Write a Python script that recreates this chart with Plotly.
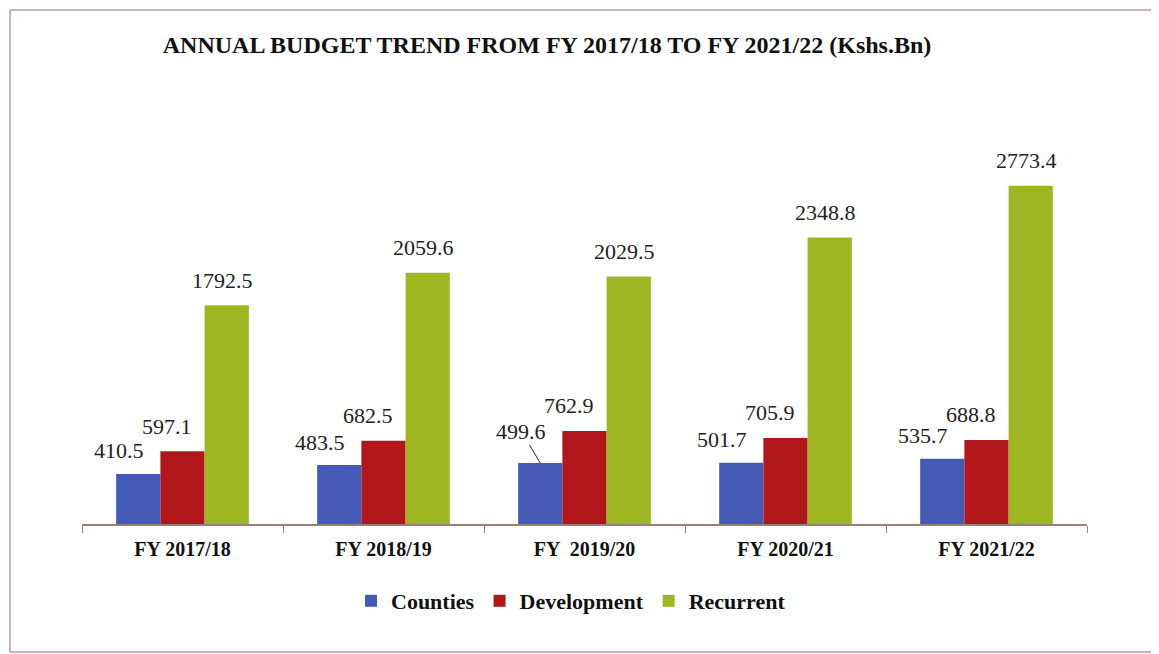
import plotly.graph_objects as go

# FY categories (the double space in 2019/20 is as printed)
years = ["FY 2017/18", "FY 2018/19", "FY  2019/20", "FY 2020/21", "FY 2021/22"]
counties = [410.5, 483.5, 499.6, 501.7, 535.7]
development = [597.1, 682.5, 762.9, 705.9, 688.8]
recurrent = [1792.5, 2059.6, 2029.5, 2348.8, 2773.4]

W, H = 1159, 654
PAGE = 8  # default body margin of the html page
# plot area wanted on screen: x 82..1087, y 158..524
M_L, M_T = 82 - PAGE, 158 - PAGE
M_R = W - (1087 - PAGE)
M_B = H - (524 - PAGE)
SERIF = "Liberation Serif, Times New Roman, serif"

series = [
    ("Counties", counties, "#4559B6"),
    ("Development", development, "#B0161A"),
    ("Recurrent", recurrent, "#9EB621"),
]

fig = go.Figure()
for name, vals, color in series:
    fig.add_trace(go.Bar(x=years, y=vals, name=name, marker=dict(color=color, line=dict(width=0)), hoverinfo="skip"))

plot_w = W - M_L - M_R
plot_h = H - M_T - M_B
bargap = 0.34
bar_px = plot_w / len(years) * (1 - bargap) / 3
nudges = [(-19, 23), (-16, 25), (-4, 25)]
label_font = dict(family=SERIF, size=22, color="#222")
annotations = []
for k, (name, vals, color) in enumerate(series):
    off = (k - 1) * bar_px
    dx, dy = nudges[k]
    for cat, v in zip(years, vals):
        if name == "Counties" and cat == "FY  2019/20":
            # label pulled away with a leader line
            annotations.append(dict(x=cat, y=v, xshift=off, text=f"{v:.1f}", showarrow=True, arrowhead=0, arrowwidth=1, arrowcolor="#222", ax=-19, ay=-32, font=label_font))
            continue
        annotations.append(dict(x=cat, y=v, xshift=off + dx, yshift=dy, text=f"{v:.1f}", showarrow=False, yanchor="middle", font=label_font))

# screen pixel -> paper coordinates
px_x = lambda p: (p - PAGE - M_L) / plot_w
px_y = lambda p: (H - M_B - (p - PAGE)) / plot_h

# frame round the chart: left, top and bottom edges only (right edge is off the page)
frame = dict(type="line", xref="paper", yref="paper", line=dict(color="#b89a98", width=1.5), layer="below")
shapes = [
    dict(frame, x0=px_x(10), x1=px_x(10), y0=px_y(652), y1=px_y(10)),
    dict(frame, x0=px_x(10), x1=px_x(1166), y0=px_y(10), y1=px_y(10)),
    dict(frame, x0=px_x(10), x1=px_x(1166), y0=px_y(652), y1=px_y(652)),
]

fig.update_layout(
    width=W,
    height=H,
    margin=dict(l=M_L, r=M_R, t=M_T, b=M_B),
    paper_bgcolor="white",
    plot_bgcolor="white",
    barmode="group",
    bargap=bargap,
    bargroupgap=0,
    title=dict(text="<b>ANNUAL BUDGET TREND FROM FY 2017/18 TO FY 2021/22 (Kshs.Bn)</b>", x=(547 - PAGE) / W, xanchor="center", y=1 - (45 - PAGE) / H, yanchor="middle", font=dict(family=SERIF, size=24, color="#111")),
    xaxis=dict(showline=True, linecolor="#9a7f78", linewidth=1.5, ticks="outside", tickson="boundaries", ticklen=7, tickcolor="#9a7f78", tickfont=dict(family=SERIF, size=20, color="#111", weight="bold"), ticklabelstandoff=6, showgrid=False),
    yaxis=dict(visible=False, range=[0, 3000], showgrid=False),
    showlegend=True,
    legend=dict(orientation="h", x=px_x(571), xanchor="center", y=px_y(601), yanchor="middle", font=dict(family=SERIF, size=22, color="#111", weight="bold"), itemwidth=30, traceorder="normal"),
    annotations=annotations,
    shapes=shapes,
)

fig.write_html("out.html")
